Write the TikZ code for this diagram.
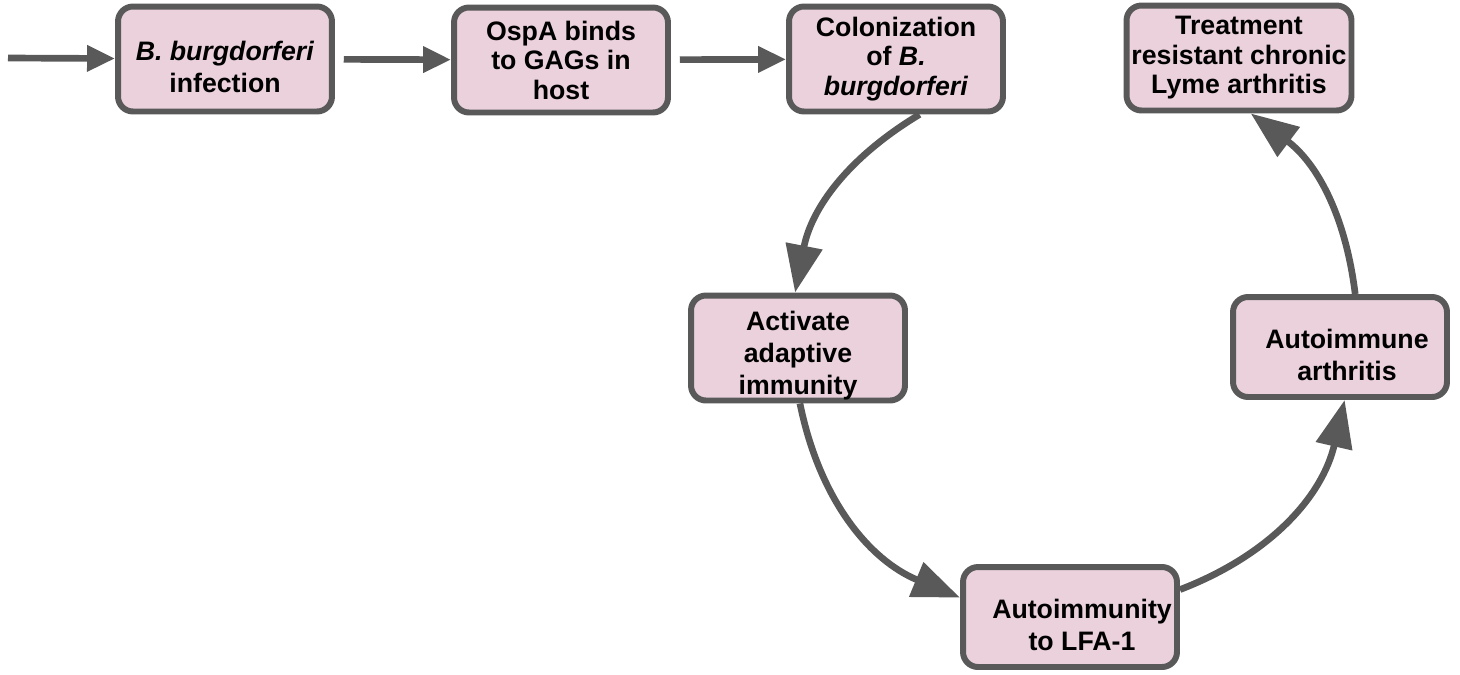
\documentclass[tikz,border=0pt]{standalone}
\usepackage{fontspec}
\setmainfont{Liberation Sans}
\usepackage{tikz}
\usetikzlibrary{arrows.meta}
\definecolor{boxfill}{HTML}{EAD1DC}
\definecolor{boxline}{HTML}{595959}
\newcommand{\dropline}{\rule{0pt}{20pt}}
\tikzset{every node/.append style={font=\fontsize{15.2}{18.3}\selectfont\bfseries}}
\tikzset{
  stage/.style={draw=boxline, fill=boxfill, line width=3.4pt, rounded corners=0.3cm,
    align=center, inner sep=0pt, minimum width=4.28cm, minimum height=2.1cm},
  tight/.style={font=\fontsize{15.2}{16.8}\selectfont\bfseries},
  feed/.style={draw=boxline, line width=3.8pt, -{Triangle[length=0.56cm, width=0.5cm]}},
  cyclearrow/.style={feed, -{Triangle[length=0.95cm, width=0.72cm]}}
}

\begin{document}
\begin{tikzpicture}[x=0.02cm, y=-0.02cm]
    \useasboundingbox (0,0) rectangle (1460,674);
    % top row
    \node[stage] (infect) at (225,59) {\dropline\textit{B. burgdorferi}\\infection};
    \node[stage, tight] (ospa) at (561,60) {OspA binds\\to GAGs in\\host};
    \node[stage, tight] (colon) at (896,59) {Colonization\\of \textit{B.}\\\textit{burgdorferi}};
    \node[stage, tight, minimum width=4.5cm] (chronic) at (1239,58) {Treatment\\resistant chronic\\Lyme arthritis};
    % cycle
    \node[stage] (adapt) at (798,348) {\dropline Activate\\adaptive\\immunity};
    \node[stage, minimum height=2cm] (autoarth) at (1340,347) {\dropline\hspace*{0.28cm}Autoimmune\\\hspace*{0.28cm}arthritis};
    \node[stage, minimum height=2cm] (lfa) at (1070,617) {\dropline\hspace*{0.48cm}Autoimmunity\\\hspace*{0.48cm}to LFA-1};
    \coordinate (start) at (8,58);
    % straight arrows
    \draw[feed] (start) -- (infect);
    \draw[feed, shorten <=5pt] (infect) -- (ospa);
    \draw[feed, shorten <=5pt] (ospa) -- (colon);
    % curved arrows
    \draw[cyclearrow] (colon.-67) to[bend right=24] (adapt.93);
    \draw[cyclearrow] (adapt.-88) to[bend right=28] (lfa.170);
    \draw[cyclearrow] (lfa.14) to[bend right=28] (autoarth.-85);
    \draw[cyclearrow] (autoarth.74) to[bend right=23] (chronic.-78);
\end{tikzpicture}
\end{document}
